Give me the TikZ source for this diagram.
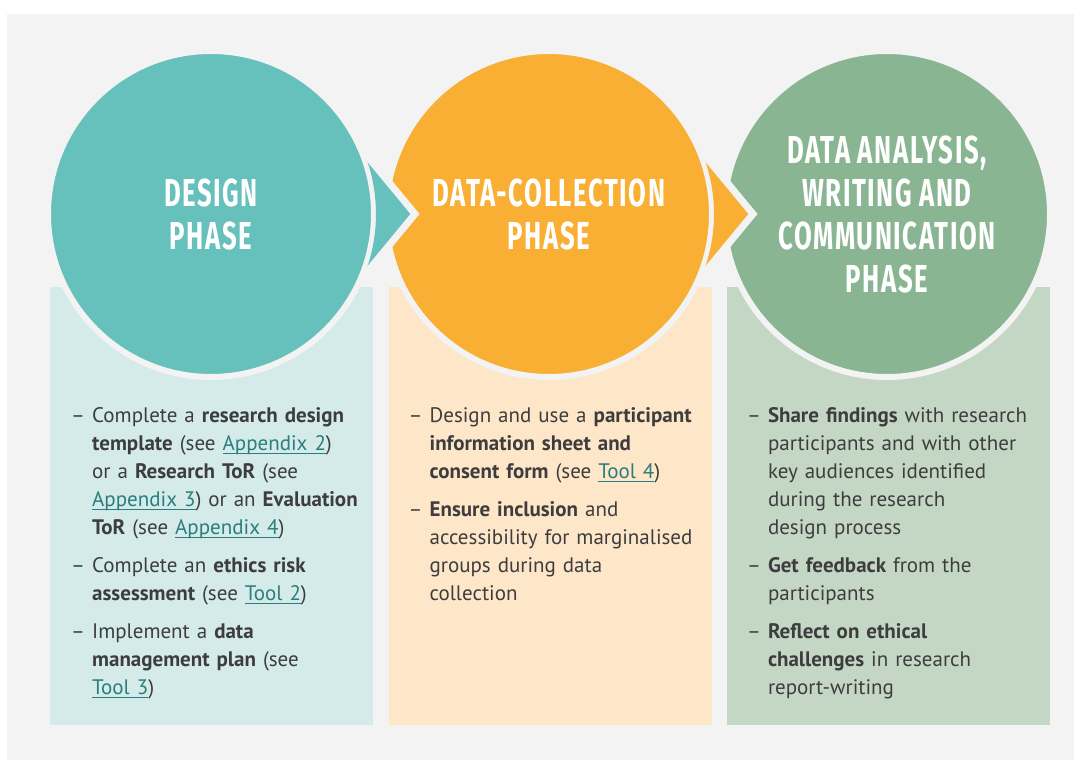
\documentclass[tikz,border=0pt]{standalone}
\usepackage{fontspec}
\setmainfont{PT Sans}
\newfontfamily\headfont[FakeStretch=0.66,LetterSpace=4]{Fira Sans}
\usetikzlibrary{positioning}

\definecolor{pagegrey}{HTML}{F3F3F3}
\definecolor{designteal}{HTML}{66C0BC}
\definecolor{designlight}{HTML}{D4EBEA}
\definecolor{collectorange}{HTML}{F9AF33}
\definecolor{collectlight}{HTML}{FEE6C9}
\definecolor{analysisgreen}{HTML}{8AB592}
\definecolor{analysislight}{HTML}{C4D7C5}
\definecolor{bodygrey}{HTML}{3D3D3D}
\definecolor{linkteal}{HTML}{2B7D7E}

\newcommand\phaseitem{\par\hangindent=21pt\hangafter=1\noindent\rule{0pt}{20pt}\makebox[21pt][l]{--}}
\newcommand\toollink[1]{\textcolor{linkteal}{\setbox0\hbox{#1}\rlap{\rule[-3.5pt]{\wd0}{1.2pt}}\box0}}

\begin{document}
\begin{tikzpicture}[x=1pt, y=1pt]
\tikzset{
    phasebox/.style={rectangle, inner sep=0pt, minimum width=323pt, minimum height=438pt},
    phasecircle/.style={circle, draw=pagegrey, line width=6pt, minimum size=326pt, inner sep=0pt, text=white, align=center, font=\headfont\bfseries\fontsize{39}{43}\selectfont},
    phaselist/.style={inner sep=0pt, text width=330pt, text=bodygrey, font=\fontsize{21}{28}\selectfont, execute at begin node={\raggedright\setlength\parskip{10pt}}},
    phasearrow/.style={draw=pagegrey, line width=7pt}
}
\useasboundingbox (0,0) rectangle (1074,760);
\fill[pagegrey] (7,0) rectangle (1074,746);

% lower boxes
\node[phasebox, fill=designlight, anchor=south west] (designbox) at (50,35) {};
\node[phasebox, fill=collectlight, right=15pt of designbox] (collectbox) {};
\node[phasebox, fill=analysislight, right=15pt of collectbox] (analysisbox) {};

% phase circles
\node[phasecircle, fill=designteal] (design) at (211,546) {DESIGN\\PHASE};
\node[phasecircle, fill=collectorange, right=6pt of design] (collect) {DATA-COLLECTION\\PHASE};
\node[phasecircle, fill=analysisgreen, right=6pt of collect] (analysis) {DATA ANALYSIS,\\WRITING AND\\COMMUNICATION\\PHASE};

% arrow heads between the circles
\fill[designteal] ([shift={(22:165)}]design.center) -- ([shift={(204,0)}]design.center) -- ([shift={(-22:165)}]design.center) arc[start angle=-22, end angle=22, radius=165] -- cycle;
\draw[phasearrow] ([shift={(22:165)}]design.center) -- ([shift={(204,0)}]design.center) -- ([shift={(-22:165)}]design.center);
\fill[collectorange] ([shift={(22:165)}]collect.center) -- ([shift={(204,0)}]collect.center) -- ([shift={(-22:165)}]collect.center) arc[start angle=-22, end angle=22, radius=165] -- cycle;
\draw[phasearrow] ([shift={(22:165)}]collect.center) -- ([shift={(204,0)}]collect.center) -- ([shift={(-22:165)}]collect.center);

% lists
\node[phaselist, below right=98pt and 21pt of designbox.north west] (designlist) {%
\phaseitem Complete a \textbf{research design}\newline
\textbf{template} (see \toollink{Appendix 2})\newline
or a \textbf{Research ToR} (see\newline
\toollink{Appendix 3}) or an \textbf{Evaluation}\newline
\textbf{ToR} (see \toollink{Appendix 4})
\phaseitem Complete an \textbf{ethics risk}\newline
\textbf{assessment} (see \toollink{Tool 2})
\phaseitem Implement a \textbf{data}\newline
\textbf{management plan} (see\newline
\toollink{Tool 3})\par};
\node[phaselist, below right=98pt and 20pt of collectbox.north west] (collectlist) {%
\phaseitem Design and use a \textbf{participant}\newline
\textbf{information sheet and}\newline
\textbf{consent form} (see \toollink{Tool 4})
\phaseitem \textbf{Ensure inclusion} and\newline
accessibility for marginalised\newline
groups during data\newline
collection\par};
\node[phaselist, below right=98pt and 20pt of analysisbox.north west] (analysislist) {%
\phaseitem \textbf{Share findings} with research\newline
participants and with other\newline
key audiences identified\newline
during the research\newline
design process
\phaseitem \textbf{Get feedback} from the\newline
participants
\phaseitem \textbf{Reflect on ethical}\newline
\textbf{challenges} in research\newline
report-writing\par};
\end{tikzpicture}
\end{document}
